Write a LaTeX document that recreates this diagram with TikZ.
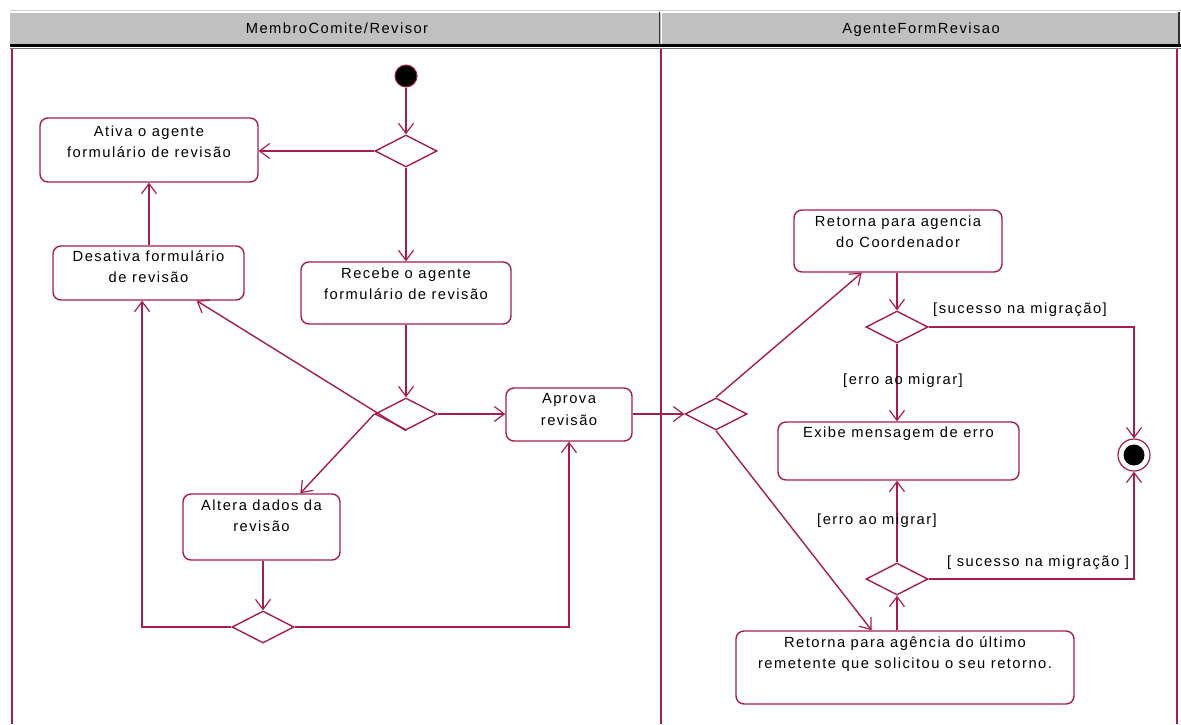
\documentclass[tikz,border=0pt]{standalone}
\usepackage{fontspec}
\setmainfont{Liberation Sans}[LetterSpace=10]
\usetikzlibrary{shapes.geometric,arrows.meta,calc}
\definecolor{uml}{RGB}{165,30,72}
\definecolor{hdr}{RGB}{192,192,192}
\tikzset{
  act/.style={draw=uml, line width=1.4pt, rounded corners=8pt, inner sep=0pt},
  dec/.style={draw=uml, line width=1.4pt, diamond, inner sep=0pt, minimum width=62pt, minimum height=32pt},
  arr/.style={draw=uml, line width=1.4pt, -{Straight Barb[length=10pt,width=15pt,line width=1.2pt]}},
  txt/.style={font=\fontsize{14.7}{21.5}\selectfont, align=center, inner sep=0pt, text=black},
  grd/.style={font=\fontsize{14.7}{21.5}\selectfont, inner sep=0pt, text=black},
  lane/.style={draw=uml, line width=1.3pt}
}
\begin{document}
\begin{tikzpicture}[x=1pt,y=-1pt]
\useasboundingbox (0,0) rectangle (1181,724);
% header
\draw[gray!40, line width=1pt] (10,10.5) -- (1181,10.5);
\fill[hdr] (10,12) rectangle (1179,44);
\draw[white, line width=1pt] (10,12.5) -- (1179,12.5);
\draw[black!80, line width=1.2pt] (659.5,12) -- (659.5,44);
\draw[white, line width=1pt] (661.5,13) -- (661.5,44);
\draw[black!80, line width=1.2pt] (1179,12) -- (1179,44);
\draw[black, line width=2.5pt] (10,45.5) -- (1181,45.5);
\draw[black!55, line width=1pt] (10,48) -- (1181,48);
\node[grd, anchor=base] (h1) at (337,33.5) {MembroComite/Revisor};
\node[grd, anchor=base] (h2) at (921,33.5) {AgenteFormRevisao};
% lanes
\draw[lane] (12,49) -- (12,724);
\draw[lane] (661,49) -- (661,724);
\draw[lane] (1177,49) -- (1177,724);

% activity boxes
\node[act, minimum width=218pt, minimum height=64pt] (ativa) at (149,150) {};
\node[act, minimum width=191pt, minimum height=54pt] (desat) at (148.5,273) {};
\node[act, minimum width=210pt, minimum height=62pt] (recebe) at (406,293) {};
\node[act, minimum width=126pt, minimum height=53pt] (aprova) at (569,414.5) {};
\node[act, minimum width=157pt, minimum height=66pt] (altera) at (261.5,527) {};
\node[act, minimum width=208pt, minimum height=62pt] (retc) at (898,241) {};
\node[act, minimum width=241pt, minimum height=58pt] (exibe) at (898.5,451) {};
\node[act, minimum width=338pt, minimum height=73pt] (retu) at (905,667.5) {};

\node[txt, anchor=north] (tativa) at ($(ativa.north)+(0,8)$) {Ativa o agente\\formulário de revisão};
\node[txt, anchor=north] (tdesat) at ($(desat.north)+(0,5)$) {Desativa formulário\\de revisão};
\node[txt, anchor=north] (trecebe) at ($(recebe.north)+(0,6)$) {Recebe o agente\\formulário de revisão};
\node[txt, anchor=north] (taprova) at ($(aprova.north)+(0,6)$) {Aprova\\revisão};
\node[txt, anchor=north] (taltera) at ($(altera.north)+(0,6)$) {Altera dados da\\revisão};
\node[txt, anchor=north] (tretc) at ($(retc.north)+(0,6)$) {Retorna para agencia\\do Coordenador};
\node[txt, anchor=north] (texibe) at ($(exibe.north)+(0,5)$) {Exibe mensagem de erro};
\node[txt, anchor=north] (tretu) at ($(retu.north)+(0,6)$) {Retorna para agência do último\\remetente que solicitou o seu retorno.};

% decisions
\node[dec] (d1) at (406,151) {};
\node[dec] (d2) at (406,414) {};
\node[dec] (d3) at (263,627) {};
\node[dec] (d4) at (716,414) {};
\node[dec] (d5) at (897,327) {};
\node[dec] (d6) at (897,579) {};

% initial / final
\node[circle, draw=uml, line width=1pt, fill=black, minimum size=22pt, inner sep=0pt] (init) at (406,76) {};
\node[circle, draw=uml, line width=1.2pt, minimum size=32pt, inner sep=0pt] (fin) at (1134,455) {};
\node[circle, fill=black, minimum size=21pt, inner sep=0pt] (finin) at (fin.center) {};

% connectors
\draw[arr] (init) -- (d1.north);
\draw[arr] (d1.west) -- (d1.west -| ativa.east);
\draw[arr] (d1.south) -- (d1.south |- recebe.north);
\draw[arr] (d2.north |- recebe.south) -- (d2.north);
\draw[arr] (d2.east) -- (d2.east -| aprova.west);
\coordinate (desatA) at ($(desat.south west)!0.75!(desat.south east)$);
\coordinate (desatB) at ($(desat.south west)!0.467!(desat.south east)$);
\coordinate (alteraA) at ($(altera.north west)!0.745!(altera.north east)$);
\draw[arr] (d2.south) -- (desatA);
\draw[arr] (d2.west) -- (alteraA);
\draw[arr] (d3.north |- altera.south) -- (d3.north);
\draw[arr] (d3.west) -| (desatB);
\draw[arr] (d3.east) -| (aprova.south);
\draw[arr] (desat.north -| ativa.south) -- (ativa.south);
\draw[arr] (d4.west -| aprova.east) -- (d4.west);
\coordinate (retcA) at ($(retc.south west)!0.327!(retc.south east)$);
\coordinate (retuA) at ($(retu.north west)!0.402!(retu.north east)$);
\draw[arr] (d4.north) -- (retcA);
\draw[arr] (d4.south) -- (retuA);
\draw[arr] (d5.north |- retc.south) -- (d5.north);
\draw[arr] (d5.east) -| (fin.north);
\draw[arr] (d5.south) -- (d5.south |- exibe.north);
\draw[arr] (d6.north) -- (d6.north |- exibe.south);
\draw[arr] (d6.east) -| (fin.south);
\draw[arr] (d6.south |- retu.north) -- (d6.south);

% guards
\node[grd] (g1) at (1020,310) {[sucesso na migração]};
\node[grd] (g2) at (903,381) {[erro ao migrar]};
\node[grd] (g3) at (877,521) {[erro ao migrar]};
\node[grd] (g4) at (1038,563) {[ sucesso na migração ]};
\end{tikzpicture}
\end{document}
